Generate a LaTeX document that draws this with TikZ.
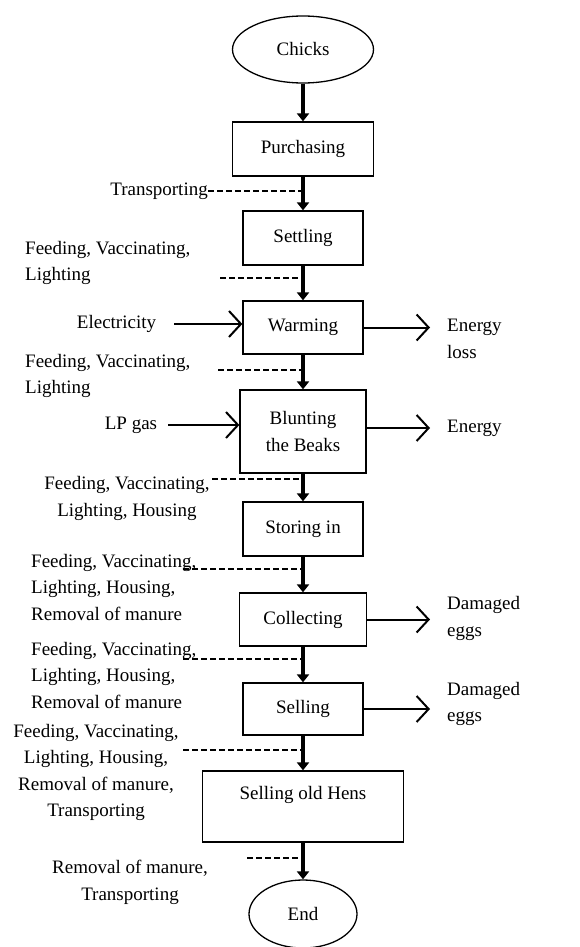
\documentclass[tikz,border=0pt]{standalone}
\usepackage{fontspec}
\setmainfont{Liberation Serif}
\usetikzlibrary{shapes.geometric,arrows.meta}

\begin{document}
\begin{tikzpicture}[x=1pt, y=-1pt, align=center,
  font=\fontsize{19}{26.5}\selectfont,
  stage/.style={draw, line width=1.3pt, minimum height=54pt},
  terminal/.style={draw, ellipse, line width=1.3pt, minimum height=67pt},
  note/.style={inner sep=0pt},
  trunk/.style={line width=4pt, -{Triangle[length=8pt,width=12pt]}},
  feed/.style={line width=1.4pt, dash pattern=on 6pt off 3pt},
  flow/.style={line width=2pt, -{Straight Barb[length=12pt,width=26pt]}}]

\useasboundingbox (0, 0) rectangle (580, 947);

\node[terminal, minimum width=141pt] (chicks) at (303, 49.5) {Chicks};
\node[stage, minimum width=141pt] (purchasing) at (303, 149) {Purchasing};
\node[stage, minimum width=120pt] (settling) at (303, 238) {Settling};
\node[stage, minimum width=120pt, minimum height=53pt] (warming) at (303, 327.5) {Warming};
\node[stage, minimum width=126pt, minimum height=83pt] (blunting) at (303, 431.5) {Blunting\\the Beaks};
\node[stage, minimum width=120pt] (storing) at (303, 529) {Storing in};
\node[stage, minimum width=127pt, minimum height=53pt] (collecting) at (303, 619.5) {Collecting};
\node[stage, minimum width=120pt, minimum height=52pt] (selling) at (303, 709) {Selling};
\node[stage, minimum width=201pt, minimum height=71pt] (hens) at (303, 806.5) {Selling old Hens\\ \mbox{}};
\node[terminal, minimum width=108pt, minimum height=68pt] (stop) at (303, 914) {End};

\node[note, anchor=east] (transport) at (208, 191) {Transporting};
\node[note, anchor=west, align=left] (care1) at (25, 263) {Feeding, Vaccinating,\\Lighting};
\node[note, anchor=west, align=left] (care2) at (25, 376) {Feeding, Vaccinating,\\Lighting};
\node[note] (care3) at (127, 498.5) {Feeding, Vaccinating,\\Lighting, Housing};
\node[note, anchor=west, align=left] (care4) at (31, 587) {Feeding, Vaccinating,\\Lighting, Housing,\\Removal of manure};
\node[note, anchor=west, align=left] (care5) at (31, 675) {Feeding, Vaccinating,\\Lighting, Housing,\\Removal of manure};
\node[note] (care6) at (96, 772.5) {Feeding, Vaccinating,\\Lighting, Housing,\\Removal of manure,\\Transporting};
\node[note] (care7) at (130, 882.5) {Removal of manure,\\Transporting};

\node[note] (electricity) at (116.5, 324) {Electricity};
\node[note] (lpgas) at (131, 425) {LP gas};
\node[note, anchor=west, align=left] (loss) at (447, 339) {Energy\\loss};
\node[note, anchor=west] (energy) at (447, 428) {Energy};
\node[note, anchor=west, align=left] (damaged1) at (447, 618.5) {Damaged\\eggs};
\node[note, anchor=west, align=left] (damaged2) at (447, 704) {Damaged\\eggs};

\coordinate (dash1) at (220, 278);
\coordinate (dash2) at (218, 370);
\coordinate (dash3) at (212, 479);
\coordinate (dash4) at (183, 569);
\coordinate (dash5) at (183, 659);
\coordinate (dash6) at (183, 750);
\coordinate (dash7) at (247, 858);

\draw[trunk] (chicks) -- (purchasing);
\draw[trunk] (purchasing) -- (settling);
\draw[trunk] (settling) -- (warming);
\draw[trunk] (warming) -- (blunting);
\draw[trunk] (blunting) -- (storing);
\draw[trunk] (storing) -- (collecting);
\draw[trunk] (collecting) -- (selling);
\draw[trunk] (selling) -- (hens);
\draw[trunk] (hens) -- (stop);

\draw[feed] (transport) -- (transport -| purchasing);
\draw[feed] (dash1) -- (dash1 -| settling);
\draw[feed] (dash2) -- (dash2 -| warming);
\draw[feed] (dash3) -- (dash3 -| blunting);
\draw[feed] (dash4) -- (dash4 -| storing);
\draw[feed] (dash5) -- (dash5 -| collecting);
\draw[feed] (dash6) -- (dash6 -| selling);
\draw[feed] (dash7) -- (dash7 -| hens);

\draw[flow, shorten <=18pt] (electricity) -- (electricity -| warming.west);
\draw[flow, shorten >=17pt] (warming) -- (warming -| loss.west);
\draw[flow, shorten <=11pt] (lpgas) -- (lpgas -| blunting.west);
\draw[flow, shorten >=17pt] (blunting.east |- energy) -- (energy);
\draw[flow, shorten >=17pt] (collecting) -- (collecting -| damaged1.west);
\draw[flow, shorten >=17pt] (selling) -- (selling -| damaged2.west);

\end{tikzpicture}
\end{document}
